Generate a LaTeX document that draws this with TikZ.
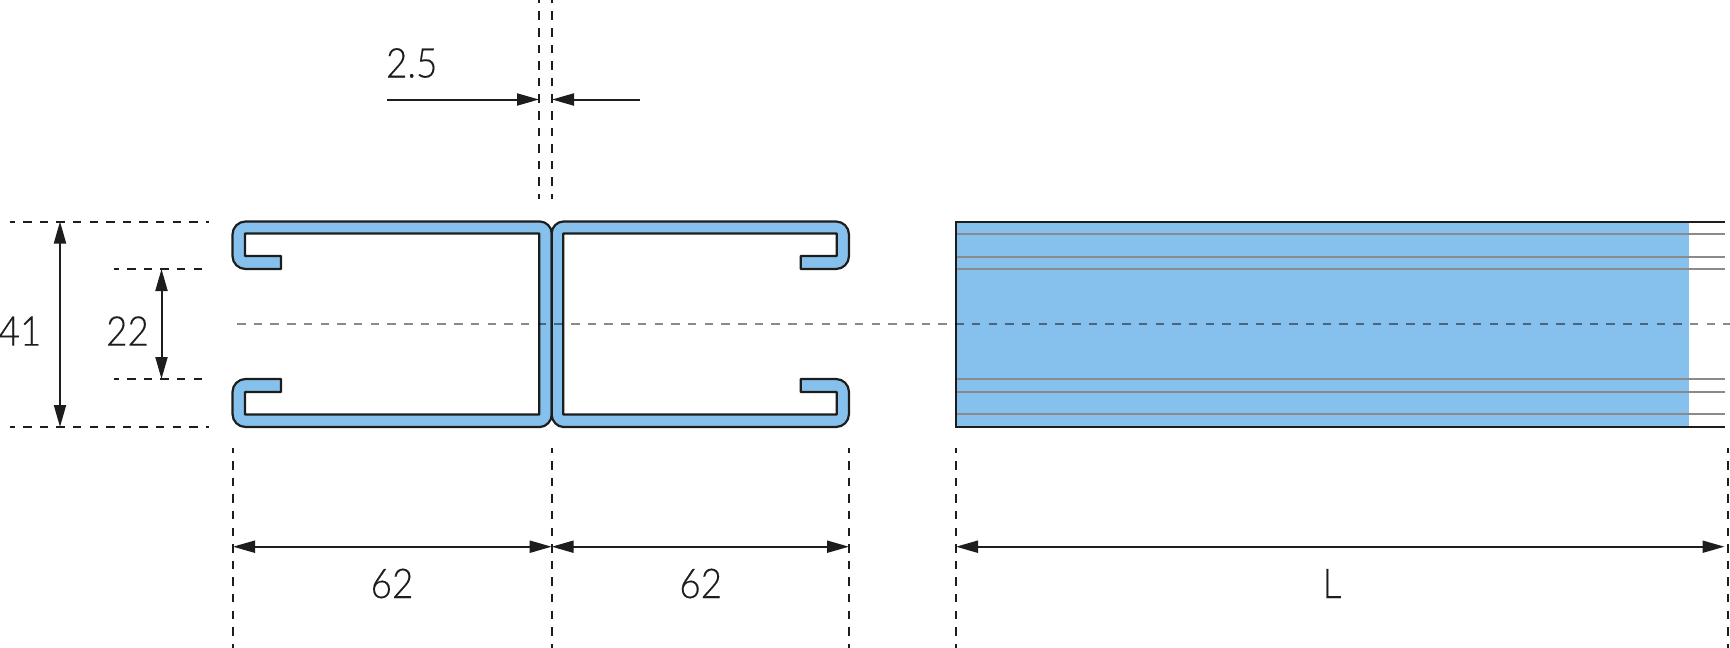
\documentclass[tikz,border=0pt]{standalone}
\usepackage{fontspec}
\setmainfont{Lato Light}[FakeStretch=0.9, FakeBold=0.25]
\usetikzlibrary{arrows.meta, calc}

\definecolor{steelblue}{HTML}{86C0EC}
\definecolor{inkblack}{HTML}{1D1D1B}
\definecolor{edgegrey}{HTML}{8A8A8A}

\begin{document}
\begin{tikzpicture}[
  x=1pt, y=-1pt,
  every node/.style={inner sep=0, text=inkblack, font=\fontsize{41}{41}\selectfont},
  profile/.style={draw=inkblack, line width=2.2pt, fill=steelblue, line join=round},
  leader/.style={draw=inkblack, line width=2pt, dash pattern=on 8.5pt off 8.1pt, dash phase=3.5pt},
  axisline/.style={draw=edgegrey, line width=2.5pt, dash pattern=on 8.5pt off 8.2pt, blend mode=multiply},
  edgeline/.style={draw=edgegrey, line width=2.2pt},
  outline/.style={draw=inkblack, line width=2.5pt},
  dim/.style={draw=inkblack, line width=2pt, {Triangle[length=22pt, width=12pt]}-{Triangle[length=22pt, width=12pt]}},
  dimto/.style={draw=inkblack, line width=2pt, -{Triangle[length=22pt, width=12pt]}}]

  \useasboundingbox (0,0) rectangle (1730,648);

  % Reference points of the sections
  \coordinate (topleft) at (10,221.5);
  \coordinate (topstop) at (209,221.5);
  \coordinate (lipuleft) at (114,269);
  \coordinate (lipustop) at (209,269);
  \coordinate (lipdleft) at (114,379);
  \coordinate (lipdstop) at (209,379);
  \coordinate (botleft) at (10,427);
  \coordinate (botstop) at (209,427);
  \coordinate (axisstart) at (237,324);
  \coordinate (axisend) at (1730,324);

  % Left section
  \draw[profile] (281,256) -- (245,256) -- (245,233.5) -- (539.3,233.5) -- (539.3,414.5) -- (245,414.5) -- (245,392) -- (281,392) -- (281,379)
    [rounded corners=13pt] -- (232.5,379) -- (232.5,427) [sharp corners] -- (540,427)
    .. controls (546,427) and (551.7,421) .. (551.7,415) -- (551.7,233)
    .. controls (551.7,227) and (546,221.5) .. (540,221.5)
    [rounded corners=13pt] -- (232.5,221.5) -- (232.5,269) [sharp corners] -- (281,269) -- cycle;

  % Right section
  \draw[profile] (800.7,256) -- (836.7,256) -- (836.7,233.5) -- (563.3,233.5) -- (563.3,414.5) -- (836.7,414.5) -- (836.7,392) -- (800.7,392) -- (800.7,379)
    [rounded corners=13pt] -- (849,379) -- (849,427) [sharp corners] -- (563.3,427)
    .. controls (557.3,427) and (551.7,421) .. (551.7,415) -- (551.7,233)
    .. controls (551.7,227) and (557.3,221.5) .. (563.3,221.5)
    [rounded corners=13pt] -- (849,221.5) -- (849,269) [sharp corners] -- (800.7,269) -- cycle;

  % Side view
  \coordinate (sidetl) at (956,222);
  \coordinate (sidetr) at (1725,222);
  \coordinate (sidebl) at (956,427);
  \coordinate (sidebr) at (1725,427);
  \fill[steelblue] (sidetl) rectangle (1689,427);
  \draw[edgeline] (956,234.3) -- (1725,234.3);
  \draw[edgeline] (956,257) -- (1725,257);
  \draw[edgeline] (956,269.3) -- (1725,269.3);
  \draw[edgeline] (956,379.3) -- (1725,379.3);
  \draw[edgeline] (956,392) -- (1725,392);
  \draw[edgeline] (956,414.3) -- (1725,414.3);
  \draw[outline] (sidetr) -- (sidetl) -- (sidebl) -- (sidebr);

  % Axis through both views
  \draw[axisline] (axisstart) -- (axisend);

  % Leaders on the left
  \draw[leader] (topleft) -- (topstop);
  \draw[leader] (lipuleft) -- (lipustop);
  \draw[leader] (lipdleft) -- (lipdstop);
  \draw[leader] (botleft) -- (botstop);

  % Leaders at the top
  \coordinate (thicka) at (539,0);
  \coordinate (thickb) at (551.5,0);
  \draw[leader] (539,199) -- (thicka);
  \draw[leader] (551.5,199) -- (thickb);

  % Leaders at the bottom
  \coordinate (widtha) at (233,448);
  \coordinate (widthb) at (551.7,448);
  \coordinate (widthc) at (849,448);
  \coordinate (lena) at (956,448);
  \coordinate (lenb) at (1727.5,448);
  \draw[leader] (widtha) -- (233,648);
  \draw[leader] (widthb) -- (551.7,648);
  \draw[leader] (widthc) -- (849,648);
  \draw[leader] (lena) -- (956,648);
  \draw[leader] (lenb) -- (1727.5,648);

  % Dimension arrows and their labels
  \draw[dim] (60,221.5) -- (60,427);
  \draw[dim] (161.5,269) -- (161.5,379);
  \draw[dim] (233,546.7) -- (551.7,546.7);
  \draw[dim] (551.7,546.7) -- (849,546.7);
  \draw[dim] (956,546.7) -- (1724.5,546.7);
  \coordinate (thickl) at (387,99.5);
  \coordinate (thickr) at (640,99.5);
  \draw[dimto] (thickl) -- (539,99.5);
  \draw[dimto] (thickr) -- (552,99.5);

  \node (wall) at (411.7,63) {2.5};
  \node (height) at (20,331) {41};
  \node (opening) at (127.5,331) {22};
  \node (widthl) at (392,583.5) {62};
  \node (widthr) at (700.7,583.5) {62};
  \node (length) at (1332,583.5) {L};

\end{tikzpicture}
\end{document}
